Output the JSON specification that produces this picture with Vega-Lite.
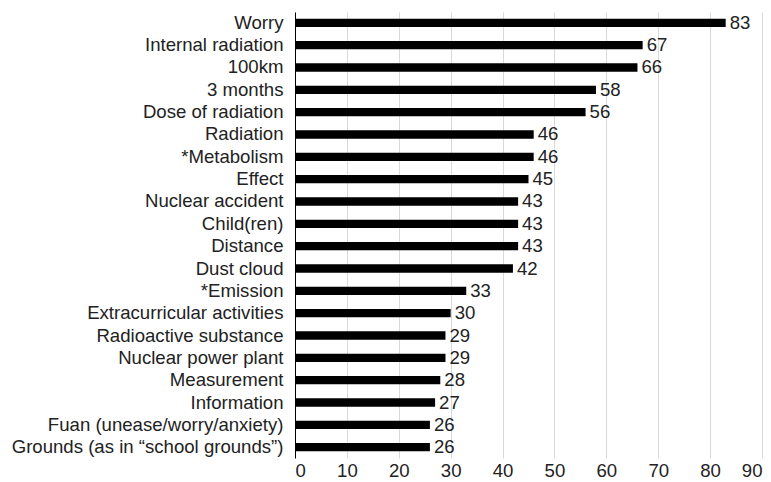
{
  "$schema": "https://vega.github.io/schema/vega-lite/v6.json",
  "width": 467,
  "height": 446,
  "autosize": {"type": "none"},
  "padding": {"left": 295, "top": 12, "right": 9, "bottom": 24},
  "background": "white",
  "config": {
    "view": {"stroke": null},
    "font": "Liberation Sans",
    "axis": {"labelFont": "Liberation Sans", "labelFontSize": 18.6, "labelColor": "#222222", "labelLimit": 0}
  },
  "data": {
    "values": [
      {"term": "Worry", "value": 83},
      {"term": "Internal radiation", "value": 67},
      {"term": "100km", "value": 66},
      {"term": "3 months", "value": 58},
      {"term": "Dose of radiation", "value": 56},
      {"term": "Radiation", "value": 46},
      {"term": "*Metabolism", "value": 46},
      {"term": "Effect", "value": 45},
      {"term": "Nuclear accident", "value": 43},
      {"term": "Child(ren)", "value": 43},
      {"term": "Distance", "value": 43},
      {"term": "Dust cloud", "value": 42},
      {"term": "*Emission", "value": 33},
      {"term": "Extracurricular activities", "value": 30},
      {"term": "Radioactive substance", "value": 29},
      {"term": "Nuclear power plant", "value": 29},
      {"term": "Measurement", "value": 28},
      {"term": "Information", "value": 27},
      {"term": "Fuan (unease/worry/anxiety)", "value": 26},
      {"term": "Grounds (as in “school grounds”)", "value": 26}
    ]
  },
  "encoding": {
    "y": {
      "field": "term",
      "type": "nominal",
      "sort": null,
      "title": null,
      "scale": {"paddingInner": 0.63, "paddingOuter": 0.3},
      "axis": {"domainColor": "#000000", "domainWidth": 1, "ticks": false, "labelPadding": 12, "grid": false}
    },
    "x": {
      "field": "value",
      "type": "quantitative",
      "title": null,
      "scale": {"domain": [0, 90], "nice": false},
      "axis": {"values": [0, 10, 20, 30, 40, 50, 60, 70, 80, 90], "domain": false, "ticks": false, "grid": true, "gridColor": "#d9d9d9", "gridWidth": 1, "labelPadding": 3}
    }
  },
  "layer": [
    {"mark": {"type": "bar", "color": "#000000"}},
    {
      "mark": {"type": "text", "align": "left", "baseline": "middle", "dx": 4, "fontSize": 18.6, "color": "#222222", "font": "Liberation Sans"},
      "encoding": {"text": {"field": "value", "type": "quantitative"}}
    }
  ]
}
